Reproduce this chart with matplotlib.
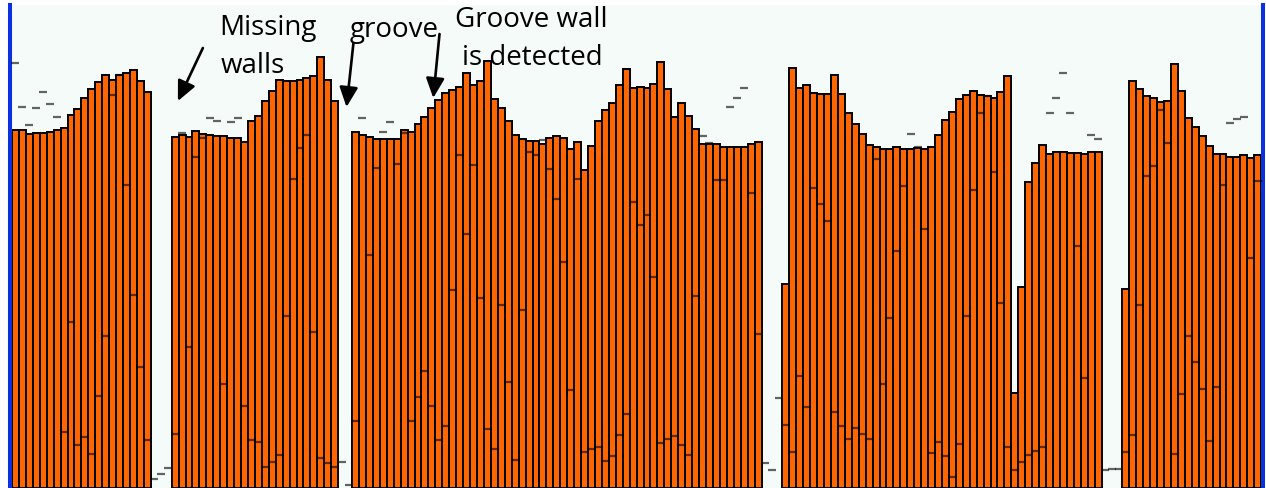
import numpy as np
import matplotlib.pyplot as plt

# --- Data: wall height per scan position (gaps = no wall detected) ---
seg1 = [358, 358, 354, 355, 355, 356, 358, 360, 373, 379, 390, 399, 406, 413, 408, 413, 415, 418, 407, 396]
seg2 = [351, 353, 351, 357, 354, 353, 352, 352, 350, 350, 346, 367, 372, 387, 397, 408, 407, 407, 408, 410,
        412, 431, 408, 387]
seg3 = [356, 353, 351, 349, 349, 349, 349, 358, 356, 364, 371, 380, 388, 395, 398, 401, 415, 403, 407, 427,
        389, 380, 367, 353, 349, 347, 347, 344, 350, 352, 350, 339, 346, 318, 342, 367, 378, 385, 403, 419,
        400, 401, 400, 404, 426, 399, 371, 385, 372, 359, 344, 344, 344, 341, 341, 341, 341, 344, 346]
seg4 = [204, 420, 400, 403, 395, 394, 394, 413, 394, 375, 364, 354, 343, 341, 339, 339, 341, 339, 339, 340,
        339, 341, 353, 368, 376, 389, 393, 397, 393, 392, 390, 396, 412, 95, 201, 306, 325, 343, 334, 336,
        336, 335, 335, 334, 336, 336]
seg5 = [199, 407, 399, 392, 390, 386, 387, 424, 397, 370, 361, 352, 342, 334, 334, 331, 331, 333, 330, 333]
gap_sizes = [3, 2, 3, 3]

# second measurement (drawn as short dashes), one per scan position
mk1 = [425, 381, 363, 380, 396, 384, 371, 56, 166, 43, 51, 34, 92, 152, 393, 413, 303, 193, 121, 48]
gap_mk1 = [9, 14, 20]
mk2 = [54, 355, 141, 331, 350, 370, 367, 104, 366, 370, 82, 48, 46, 21, 26, 33, 172, 309, 340, 353,
       156, 30, 25, 21]
gap_mk2 = [26, 3]
mk3 = [67, 370, 233, 320, 356, 366, 324, 355, 67, 91, 117, 82, 48, 62, 198, 333, 254, 323, 190, 59,
       39, 183, 106, 28, 178, 336, 333, 348, 319, 289, 226, 98, 309, 36, 39, 41, 27, 32, 53, 74,
       286, 263, 273, 211, 45, 49, 52, 43, 33, 192, 352, 345, 308, 308, 381, 390, 400, 295, 154]
gap_mk3 = [25, 18, 90]
mk4 = [63, 36, 112, 81, 300, 284, 267, 76, 62, 49, 60, 54, 49, 329, 104, 170, 237, 302, 354, 341,
       259, 35, 46, 32, 11, 44, 172, 298, 375, 392, 316, 185, 41, 18, 26, 33, 37, 41, 375, 390,
       415, 375, 242, 110, 353, 349]
gap_mk4 = [18, 19, 19]
mk5 = [36, 53, 183, 312, 322, 378, 345, 34, 94, 152, 126, 99, 47, 101, 303, 365, 369, 371, 230, 307]

segments = [seg1, seg2, seg3, seg4, seg5]
heights = []
for k, seg in enumerate(segments):
    heights += seg
    if k < len(gap_sizes):
        heights += [np.nan] * gap_sizes[k]
heights = np.array(heights, dtype=float)
markers = np.array(mk1 + gap_mk1 + mk2 + gap_mk2 + mk3 + gap_mk3 + mk4 + gap_mk4 + mk5, dtype=float)
x = np.arange(len(heights))

plt.rcParams['font.family'] = ['Open Sans', 'DejaVu Sans']

fig = plt.figure(figsize=(12.66, 4.88), dpi=100)
ax = fig.add_axes([10 / 1266, 0, 1253 / 1266, 483 / 488])
ax.set_facecolor('#f5fbf8')

ax.bar(x, heights, width=1.0, color='#ff6600', edgecolor='black', linewidth=1.4, zorder=2)
ax.plot(x, markers, ls='none', marker='_', ms=6, mew=1.6, color='black', alpha=0.6, zorder=3)

ax.set_xlim(-0.79, 179.76)
ax.set_ylim(0, 483)
ax.set_xticks([])
ax.set_yticks([])
for side in ['top', 'bottom']:
    ax.spines[side].set_visible(False)
for side in ['left', 'right']:
    ax.spines[side].set_color('#0a30e0')
    ax.spines[side].set_linewidth(2.9)

# annotations
labels = [
    ("Missing", 29.3, 453), ("walls", 29.5, 415),
    ("groove", 48.2, 451),
    ("Groove wall", 63.3, 461), ("is detected", 64.3, 423),
]
for txt, tx, ty in labels:
    ax.text(tx, ty, txt, fontsize=20, ha='left', va='baseline', color='black', zorder=5)

arrows = [((27.0, 440), (23.4, 387)), ((48.7, 445), (47.7, 381)), ((61.1, 454), (60.2, 390))]
for (x0, y0), (x1, y1) in arrows:
    ax.annotate('', xy=(x1, y1), xytext=(x0, y0),
                arrowprops=dict(arrowstyle='-|>,head_length=0.6,head_width=0.28', lw=1.9,
                                color='black', mutation_scale=20, shrinkA=0, shrinkB=0),
                zorder=5)

fig.savefig('out.png', dpi=100)
